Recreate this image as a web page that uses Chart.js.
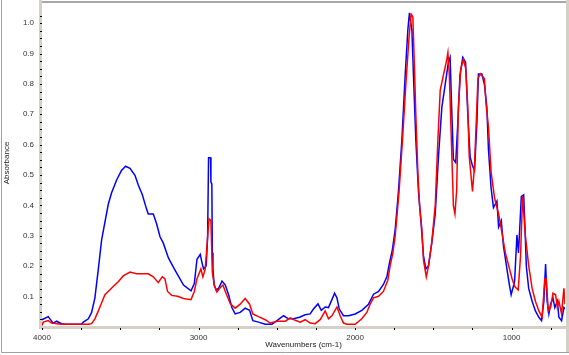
<!DOCTYPE html>
<html>
<head>
<meta charset="utf-8">
<script src="https://cdn.jsdelivr.net/npm/chart.js@4.4.1/dist/chart.umd.min.js"></script>
<style>
html,body{margin:0;padding:0;background:#fff;}
#c{display:block;}
</style>
</head>
<body>
<canvas id="c" width="569" height="355"></canvas>
<script>
// ---- Data ----
const blueWn = [4000,3960,3928,3907,3875,3851,3749,3736,3704,3683,3662,3640,3619,3598,3577,3556,3524,3492,3466,3438,3406,3385,3359,3332,3321,3289,3268,3246,3225,3193,3161,3134,3096,3048,3027,3010,2989,2978,2968,2951,2942,2936,2923,2921,2915,2912,2908,2900,2887,2872,2850,2829,2808,2787,2766,2734,2702,2674,2653,2617,2574,2531,2499,2457,2425,2393,2355,2319,2287,2266,2237,2216,2191,2170,2148,2131,2116,2101,2074,2042,1999,1957,1914,1882,1850,1819,1797,1780,1763,1744,1723,1701,1680,1663,1653,1637,1627,1612,1595,1578,1563,1548,1531,1510,1488,1467,1446,1425,1404,1393,1383,1372,1357,1344,1330,1312,1294,1280,1265,1250,1237,1222,1212,1190,1173,1158,1148,1131,1116,1094,1083,1066,1052,1030,1014,1003,981,966,956,938,923,915,906,891,869,848,826,809,794,783,773,762,751,736,724,708,698,681,666,659];
const blueAbs = [0.024,0.034,0.012,0.019,0.011,0.009,0.009,0.016,0.027,0.048,0.096,0.191,0.287,0.345,0.403,0.441,0.483,0.515,0.529,0.522,0.499,0.467,0.435,0.388,0.372,0.372,0.340,0.297,0.276,0.228,0.197,0.172,0.138,0.119,0.143,0.223,0.239,0.212,0.191,0.202,0.297,0.557,0.557,0.478,0.470,0.244,0.191,0.138,0.122,0.127,0.151,0.138,0.106,0.064,0.043,0.048,0.062,0.055,0.021,0.016,0.009,0.009,0.021,0.037,0.027,0.027,0.032,0.040,0.043,0.059,0.076,0.055,0.066,0.064,0.090,0.111,0.096,0.059,0.037,0.037,0.043,0.055,0.075,0.108,0.117,0.140,0.165,0.212,0.250,0.320,0.446,0.616,0.828,0.977,1.032,0.977,0.828,0.616,0.446,0.340,0.234,0.191,0.202,0.276,0.372,0.563,0.722,0.796,0.871,0.887,0.722,0.552,0.541,0.669,0.828,0.887,0.871,0.700,0.560,0.531,0.515,0.669,0.833,0.833,0.796,0.722,0.584,0.457,0.393,0.414,0.329,0.350,0.266,0.191,0.138,0.106,0.149,0.303,0.244,0.430,0.435,0.330,0.200,0.127,0.085,0.053,0.032,0.021,0.085,0.207,0.085,0.043,0.075,0.096,0.064,0.085,0.032,0.021,0.064,0.059];

const redWn = [4000,3992,3960,3939,3877,3704,3683,3662,3640,3619,3598,3577,3545,3513,3481,3438,3396,3353,3321,3289,3257,3232,3215,3198,3172,3134,3096,3048,3027,3010,2985,2972,2957,2942,2933,2921,2912,2900,2883,2861,2844,2829,2797,2766,2734,2702,2674,2653,2617,2574,2542,2499,2446,2414,2382,2350,2319,2287,2255,2223,2191,2170,2148,2116,2095,2074,2053,1999,1957,1925,1904,1882,1850,1819,1791,1776,1760,1744,1719,1697,1676,1655,1642,1631,1621,1612,1599,1588,1573,1563,1545,1531,1510,1488,1471,1456,1436,1414,1407,1398,1385,1372,1362,1351,1340,1325,1308,1293,1280,1271,1250,1237,1215,1200,1174,1163,1148,1131,1109,1083,1061,1040,1019,997,980,958,943,930,912,891,869,848,826,805,788,779,766,751,736,719,708,698,681,666,659];
const redAbs = [0.005,0.016,0.021,0.013,0.009,0.009,0.011,0.027,0.053,0.080,0.106,0.117,0.133,0.149,0.168,0.181,0.175,0.175,0.175,0.165,0.146,0.165,0.159,0.117,0.104,0.101,0.094,0.090,0.117,0.159,0.191,0.165,0.191,0.297,0.356,0.350,0.181,0.138,0.115,0.130,0.138,0.117,0.076,0.062,0.075,0.094,0.075,0.043,0.034,0.024,0.013,0.019,0.019,0.030,0.022,0.016,0.024,0.013,0.011,0.024,0.053,0.027,0.037,0.066,0.037,0.013,0.009,0.009,0.027,0.048,0.075,0.096,0.101,0.117,0.154,0.202,0.240,0.298,0.446,0.616,0.796,0.955,1.030,1.020,0.860,0.700,0.510,0.400,0.320,0.220,0.165,0.200,0.280,0.400,0.616,0.780,0.828,0.881,0.903,0.830,0.616,0.400,0.372,0.450,0.722,0.850,0.881,0.850,0.722,0.563,0.446,0.531,0.818,0.833,0.818,0.732,0.658,0.510,0.425,0.372,0.308,0.244,0.202,0.159,0.133,0.122,0.234,0.430,0.300,0.202,0.127,0.085,0.053,0.032,0.159,0.159,0.053,0.064,0.111,0.106,0.064,0.085,0.043,0.127,0.075];

const xTickValues = [4000,3750,3500,3250,3000,2750,2500,2250,2000,1750,1500,1250,1000,750];
const xTickLabels = {4000:'4000',3000:'3000',2000:'2000',1000:'1000'};
const yTickValues = [0.025,0.05,0.075,0.1,0.125,0.15,0.175,0.2,0.225,0.25,0.275,0.3,0.325,0.35,0.375,0.4,0.425,0.45,0.475,0.5,0.525,0.55,0.575,0.6,0.625,0.65,0.675,0.7,0.725,0.75,0.775,0.8,0.825,0.85,0.875,0.9,0.925,0.95,0.975,1.0,1.025];
const yTickLabels = ['0.1','0.2','0.3','0.4','0.5','0.6','0.7','0.8','0.9','1.0'];
const xTitle = 'Wavenumbers (cm-1)';
const yTitle = 'Absorbance';

function pts(wn, ab){ return wn.map((w,i)=>({x:w, y:ab[i]})); }

const framePlugin = {
  id:'frame',
  afterDraw(chart){
    const ctx = chart.ctx, a = chart.chartArea;
    const xs = chart.scales.x, ys = chart.scales.y;
    ctx.save();
    // plot top line
    ctx.strokeStyle = '#8a8a8a'; ctx.lineWidth = 1.5;
    ctx.beginPath(); ctx.moveTo(a.left, 2); ctx.lineTo(566, 2); ctx.stroke();
    // axis bands
    ctx.fillStyle = '#d4d0c8';
    ctx.fillRect(39, 0, 3, a.bottom + 2);
    ctx.fillRect(39, a.bottom - 1, 527, 3);
    ctx.fillRect(566, 0, 3, 352);
    // outer frame
    ctx.strokeStyle = '#a0a0a0'; ctx.lineWidth = 1;
    ctx.beginPath(); ctx.moveTo(1.5, 0); ctx.lineTo(1.5, 352.5); ctx.lineTo(569, 352.5); ctx.stroke();
    // tick dots
    ctx.fillStyle = '#000';
    xTickValues.forEach(v=>{ const px = Math.round(xs.getPixelForValue(v)); ctx.fillRect(px, a.bottom + 1, 1, 2); });
    yTickValues.forEach(v=>{ const py = Math.round(ys.getPixelForValue(v)); ctx.fillRect(40, py, 2, 1); });
    // titles
    ctx.fillStyle = '#222';
    ctx.font = '8px "Liberation Sans", Arial, sans-serif';
    ctx.textAlign = 'center'; ctx.textBaseline = 'middle';
    ctx.fillText(xTitle, (a.left + a.right)/2, 345);
    ctx.translate(7, 163); ctx.rotate(-Math.PI/2);
    ctx.fillText(yTitle, 0, 0);
    ctx.restore();
  }
};

new Chart(document.getElementById('c'), {
  type:'line',
  data:{
    datasets:[
      {label:'red', data:pts(redWn, redAbs), borderColor:'#ff0000', borderWidth:1.5, pointRadius:0, tension:0, fill:false},
      {label:'blue', data:pts(blueWn, blueAbs), borderColor:'#0000ff', borderWidth:1.5, pointRadius:0, tension:0, fill:false}
    ]
  },
  options:{
    responsive:false, animation:false, devicePixelRatio:1,
    layout:{padding:{top:2, right:4, left:0, bottom:0}},
    plugins:{legend:{display:false}, tooltip:{enabled:false}},
    scales:{
      x:{
        type:'linear', reverse:true, min:659, max:4000,
        afterBuildTicks(s){ s.ticks = xTickValues.map(v=>({value:v})); },
        afterFit(s){ s.height = 28; },
        grid:{display:false, drawTicks:false}, border:{display:false},
        ticks:{autoSkip:false, maxRotation:0, padding:6, color:'#333',
          font:{family:'"Liberation Sans", Arial, sans-serif', size:8},
          callback:(v)=> xTickLabels[v] || ''}
      },
      y:{
        type:'linear', min:0, max:1.034,
        afterBuildTicks(s){ s.ticks = yTickValues.map(v=>({value:v})); },
        afterFit(s){ s.width = 42; },
        grid:{display:false, drawTicks:false}, border:{display:false},
        ticks:{autoSkip:false, padding:8, color:'#333',
          font:{family:'"Liberation Sans", Arial, sans-serif', size:8},
          callback:(v)=>{ const k = Math.round(v*1000); return (k % 100 === 0) ? yTickLabels[k/100 - 1] : ''; }}
      }
    }
  },
  plugins:[framePlugin]
});
</script>
</body>
</html>
